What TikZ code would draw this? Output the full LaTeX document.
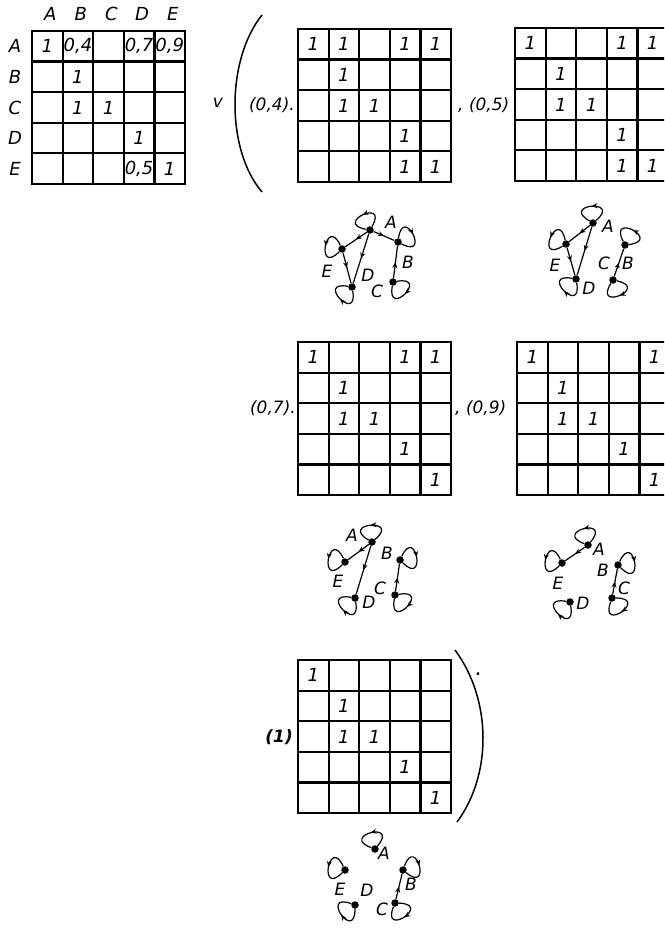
\documentclass[tikz,border=0pt]{standalone}
\usepackage{fontspec}
\setmainfont{DejaVu Sans}
\usetikzlibrary{arrows.meta,positioning,decorations.markings}

% 5x5 cut matrix: name, left, top, entries row/col/value
\newcommand{\cutmatrix}[4]{%
  \foreach \k in {0,...,5}{
    \draw[gridline] ({#2+\k*30.6},#3) -- ({#2+\k*30.6},{#3-153});
    \draw[gridline] (#2,{#3-\k*30.6}) -- ({#2+153},{#3-\k*30.6});
  }
  \foreach \r/\c/\v in {#4}
    \node[cell] (#1-\r\c) at ({#2+(\c-0.5)*30.6},{#3-(\r-0.5)*30.6}) {\v};
}
% graph vertex: name, x, y, letter, letter x, letter y
\newcommand{\gvertex}[6]{%
  \node[vtx] (#1) at (#2,#3) {};
  \node[vname] (#1l) at (#5,#6) {#4};
}

\tikzset{
  gridline/.style={line width=2.2pt, line cap=rect},
  cell/.style={font=\fontsize{18}{18}\selectfont\itshape, inner sep=0pt},
  hdr/.style={font=\fontsize{18}{18}\selectfont\itshape, inner sep=0pt},
  lbl/.style={font=\fontsize{17}{17}\selectfont\itshape, inner sep=0pt},
  vtx/.style={circle, fill=black, inner sep=0pt, minimum size=7.5pt},
  vname/.style={font=\fontsize{17}{17}\selectfont\itshape, inner sep=0pt},
  arc/.style={line width=1.2pt, postaction={decorate},
    decoration={markings, mark=at position 0.5 with {\arrow{Stealth[length=6pt,width=5pt]}}}},
  selfloop/.style={arc, min distance=34pt},
  bracket/.style={line width=1.5pt}
}

\begin{document}
\begin{tikzpicture}[x=1pt,y=1pt]
\useasboundingbox (0,0) rectangle (664,-928);
\clip (0,0) rectangle (664,-928);

% fuzzy relation
\cutmatrix{R}{32}{-31}{1/1/1, 1/2/{0,4}, 1/4/{0,7}, 1/5/{0,9}, 2/2/1, 3/2/1, 3/3/1, 4/4/1, 5/4/{0,5}, 5/5/1}
\foreach \n [count=\i] in {A,B,C,D,E}{
  \node[hdr] (col\n) at ({32+(\i-0.5)*30.6+3},-14) {\n};
  \node[hdr] (row\n) at (15,{-31-(\i-0.5)*30.6}) {\n};
}

% decomposition
\draw[bracket] (262,-15) .. controls (226,-60) and (226,-150) .. (262,-192);
\node[lbl] (vee) at (218,-103) {v};
\node[lbl, anchor=east] (a4) at (295,-105) {(0,4).};
\cutmatrix{M4}{298}{-29}{1/1/1, 1/2/1, 1/4/1, 1/5/1, 2/2/1, 3/2/1, 3/3/1, 4/4/1, 5/4/1, 5/5/1}
\node[lbl, anchor=west] (a5) at (458,-105) {, (0,5)};
\cutmatrix{M5}{515}{-28}{1/1/1, 1/4/1, 1/5/1, 2/2/1, 3/2/1, 3/3/1, 4/4/1, 5/4/1, 5/5/1}

\node[lbl, anchor=east] (a7) at (296,-408) {(0,7).};
\cutmatrix{M7}{298}{-342}{1/1/1, 1/4/1, 1/5/1, 2/2/1, 3/2/1, 3/3/1, 4/4/1, 5/5/1}
\node[lbl, anchor=west] (a9) at (455,-408) {, (0,9)};
\cutmatrix{M9}{517}{-342}{1/1/1, 1/5/1, 2/2/1, 3/2/1, 3/3/1, 4/4/1, 5/5/1}

\node[lbl, anchor=east, font=\fontsize{17}{17}\selectfont\bfseries\itshape] (a10) at (293,-737) {(1)};
\cutmatrix{M10}{298}{-660}{1/1/1, 2/2/1, 3/2/1, 3/3/1, 4/4/1, 5/5/1}
\draw[bracket] (455,-650) .. controls (492,-700) and (492,-775) .. (457,-822);
\node[lbl, font=\fontsize{22}{22}\selectfont] (dot) at (478,-674) {.};

% graph for 0,4
\gvertex{pA}{370}{-230}{A}{391}{-222}
\gvertex{pE}{342}{-249}{E}{327}{-271}
\gvertex{pB}{398}{-242}{B}{408}{-262}
\gvertex{pC}{393}{-282}{C}{377}{-291}
\gvertex{pD}{352}{-287}{D}{368}{-275}
\draw[arc] (pA) -- (pE);
\draw[arc] (pA) -- (pD);
\draw[arc] (pA) -- (pB);
\draw[arc] (pE) -- (pD);
\draw[arc] (pC) -- (pB);
\draw[selfloop] (pA) to[out=60,in=170] (pA);
\draw[selfloop] (pE) to[out=115,in=225] (pE);
\draw[selfloop] (pB) to[out=82,in=-28] (pB);
\draw[selfloop] (pC) to[out=10,in=-100] (pC);
\draw[selfloop] (pD) to[out=-80,in=-190] (pD);

% graph for 0,5
\gvertex{qA}{593}{-223}{A}{608}{-226}
\gvertex{qE}{566}{-244}{E}{555}{-265}
\gvertex{qD}{576}{-279}{D}{589}{-288}
\gvertex{qB}{625}{-245}{B}{628}{-263}
\gvertex{qC}{613}{-280}{C}{604}{-263}
\draw[arc] (qA) -- (qE);
\draw[arc] (qA) -- (qD);
\draw[arc] (qE) -- (qD);
\draw[arc] (qC) -- (qB);
\draw[selfloop] (qA) to[out=40,in=150] (qA);
\draw[selfloop] (qE) to[out=102,in=212] (qE);
\draw[selfloop] (qD) to[out=-80,in=-190] (qD);
\draw[selfloop] (qB) to[out=7,in=117] (qB);
\draw[selfloop] (qC) to[out=-12,in=-122] (qC);

% graph for 0,7
\gvertex{sA}{372}{-542}{A}{352}{-535}
\gvertex{sE}{345}{-562}{E}{338}{-581}
\gvertex{sD}{355}{-598}{D}{369}{-602}
\gvertex{sB}{400}{-560}{B}{387}{-553}
\gvertex{sC}{395}{-595}{C}{380}{-588}
\draw[arc] (sA) -- (sE);
\draw[arc] (sA) -- (sD);
\draw[arc] (sC) -- (sB);
\draw[selfloop] (sA) to[out=40,in=150] (sA);
\draw[selfloop] (sE) to[out=115,in=225] (sE);
\draw[selfloop] (sD) to[out=-80,in=-190] (sD);
\draw[selfloop] (sB) to[out=65,in=-45] (sB);
\draw[selfloop] (sC) to[out=10,in=-100] (sC);

% graph for 0,9
\gvertex{tA}{588}{-545}{A}{599}{-549}
\gvertex{tE}{562}{-563}{E}{558}{-583}
\gvertex{tD}{570}{-602}{D}{583}{-603}
\gvertex{tB}{618}{-565}{B}{603}{-570}
\gvertex{tC}{612}{-598}{C}{624}{-588}
\draw[arc] (tA) -- (tE);
\draw[arc] (tC) -- (tB);
\draw[selfloop] (tA) to[out=50,in=160] (tA);
\draw[selfloop] (tE) to[out=115,in=225] (tE);
\draw[selfloop] (tD) to[out=-80,in=-190] (tD);
\draw[selfloop] (tB) to[out=65,in=-45] (tB);
\draw[selfloop] (tC) to[out=0,in=-110] (tC);

% graph for 1
\gvertex{uA}{375}{-849}{A}{384}{-853}
\gvertex{uE}{345}{-870}{E}{340}{-889}
\gvertex{uD}{355}{-905}{D}{367}{-890}
\gvertex{uB}{403}{-870}{B}{411}{-884}
\gvertex{uC}{395}{-903}{C}{382}{-909}
\draw[arc] (uC) -- (uB);
\draw[selfloop] (uA) to[out=50,in=160] (uA);
\draw[selfloop] (uE) to[out=115,in=225] (uE);
\draw[selfloop] (uD) to[out=-90,in=-200] (uD);
\draw[selfloop] (uB) to[out=70,in=-40] (uB);
\draw[selfloop] (uC) to[out=-2,in=-112] (uC);
\end{tikzpicture}
\end{document}
